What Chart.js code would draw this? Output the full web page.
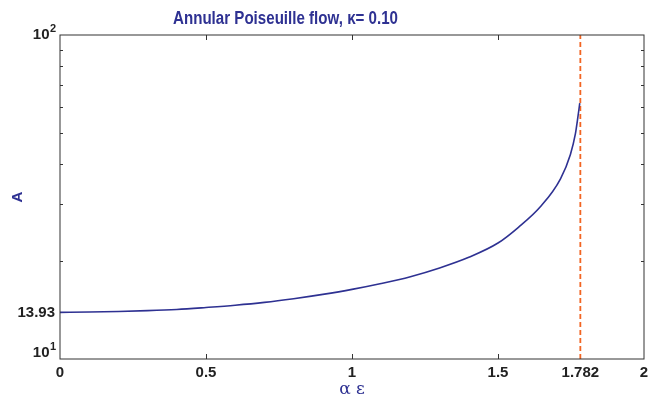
<!DOCTYPE html>
<html lang="en">
<head>
<meta charset="UTF-8">
<title>Annular Poiseuille flow</title>
<script src="https://cdn.jsdelivr.net/npm/chart.js"></script>
<style>
  body { margin: 0; background: #fff; }
  canvas { display: block; }
</style>
</head>
<body>
<canvas id="chart" width="650" height="399"></canvas>
<script>
// curve
const alphaEps = [0, 0.1, 0.2, 0.3, 0.4, 0.5, 0.6, 0.7, 0.8, 0.9, 1.0, 1.1, 1.2, 1.3, 1.4, 1.5, 1.57, 1.645, 1.714, 1.748, 1.765, 1.772, 1.78];
const ampA = [13.93, 13.96, 14.02, 14.1, 14.22, 14.42, 14.65, 14.95, 15.35, 15.83, 16.4, 17.1, 17.95, 19.1, 20.6, 22.8, 25.5, 29.5, 36.0, 42.8, 49.5, 54.5, 61.6];

const criticalX = 1.782;
const xTickValues = [0, 0.5, 1, 1.5, 1.782, 2];
const xTickLabels = ['0', '0.5', '1', '1.5', '1.782', '2'];
const yTickValues = [10, 13.93, 100];
const yTickLabels = ['', '13.93', ''];
const yMinorTicks = [20, 30, 40, 50, 60, 70, 80, 90];

const blue = '#2e3192';
const tickFont = 'bold 15px "Liberation Sans", Arial, sans-serif';

const framePlugin = {
    id: 'frame',
    afterDraw(chart) {
        const ctx = chart.ctx;
        const a = chart.chartArea;
        const x = chart.scales.x, y = chart.scales.y;
        ctx.save();
        ctx.strokeStyle = '#333';
        ctx.lineWidth = 1;
        ctx.strokeRect(a.left, a.top, a.right - a.left, a.bottom - a.top);

        // inward ticks
        ctx.beginPath();
        yMinorTicks.forEach(v => {
            const py = Math.round(y.getPixelForValue(v)) + 0.5;
            ctx.moveTo(a.left, py); ctx.lineTo(a.left + 3, py);
            ctx.moveTo(a.right, py); ctx.lineTo(a.right - 3, py);
        });
        [0.5, 1, 1.5].forEach(v => {
            const px = Math.round(x.getPixelForValue(v)) + 0.5;
            ctx.moveTo(px, a.bottom); ctx.lineTo(px, a.bottom - 5);
            ctx.moveTo(px, a.top); ctx.lineTo(px, a.top + 5);
        });
        ctx.stroke();

        // 10^1 and 10^2 labels
        ctx.fillStyle = '#222';
        const pow = (exp, yMid) => {
            ctx.font = tickFont;
            ctx.textAlign = 'right';
            ctx.textBaseline = 'middle';
            ctx.fillText('10', 49.5, yMid);
            ctx.font = 'bold 11px "Liberation Sans", Arial, sans-serif';
            ctx.textAlign = 'left';
            ctx.textBaseline = 'alphabetic';
            ctx.fillText(exp, 50, yMid - 3);
        };
        pow('2', y.getPixelForValue(100));
        pow('1', y.getPixelForValue(10) - 6.5);

        // title, narrow face
        ctx.fillStyle = blue;
        ctx.font = 'bold 18px "Liberation Sans", Arial, sans-serif';
        ctx.textAlign = 'left';
        ctx.textBaseline = 'alphabetic';
        const title = 'Annular Poiseuille flow, \u03BA= 0.10';
        const w = ctx.measureText(title).width;
        ctx.save();
        ctx.translate(173, 24);
        ctx.scale(225 / w, 1);
        ctx.fillText(title, 0, 0);
        ctx.restore();

        // axis titles
        ctx.font = '17px "DejaVu Serif", serif';
        ctx.textAlign = 'center';
        ctx.textBaseline = 'middle';
        ctx.fillText('\u03B1 \u03B5', (a.left + a.right) / 2, 390);
        ctx.save();
        ctx.translate(18, 197);
        ctx.rotate(-Math.PI / 2);
        ctx.font = 'bold 15px "Liberation Sans", Arial, sans-serif';
        ctx.fillText('A', 0, 0);
        ctx.restore();
        ctx.restore();
    }
};

new Chart(document.getElementById('chart'), {
    type: 'line',
    data: {
        datasets: [{
            data: alphaEps.map((v, i) => ({ x: v, y: ampA[i] })),
            borderColor: blue,
            borderWidth: 1.6,
            pointRadius: 0,
            cubicInterpolationMode: 'monotone',
            fill: false
        }, {
            data: [{ x: criticalX, y: 10 }, { x: criticalX, y: 100 }],
            borderColor: '#f26522',
            borderWidth: 1.8,
            borderDash: [5, 3],
            pointRadius: 0,
            fill: false
        }]
    },
    options: {
        responsive: false,
        animation: false,
        devicePixelRatio: 1,
        layout: { padding: { top: 35, right: 6, left: 0, bottom: 0 } },
        plugins: { legend: { display: false }, tooltip: { enabled: false } },
        scales: {
            x: {
                type: 'linear', min: 0, max: 2,
                grid: { display: false, drawTicks: false, tickLength: 0 },
                border: { display: false },
                afterBuildTicks: s => { s.ticks = xTickValues.map(v => ({ value: v })); },
                afterFit: s => { s.height = 40; s.paddingLeft = 0; s.paddingRight = 0; },
                ticks: {
                    autoSkip: false, maxRotation: 0, padding: 5,
                    color: '#222', font: { family: '"Liberation Sans", Arial', size: 15, weight: 'bold' },
                    callback: (v, i) => xTickLabels[i]
                }
            },
            y: {
                type: 'logarithmic', min: 10, max: 100,
                grid: { display: false, drawTicks: false, tickLength: 0 },
                border: { display: false },
                afterBuildTicks: s => { s.ticks = yTickValues.map(v => ({ value: v })); },
                afterFit: s => { s.width = 60; s.paddingTop = 0; s.paddingBottom = 0; },
                ticks: {
                    autoSkip: false, padding: 5,
                    color: '#222', font: { family: '"Liberation Sans", Arial', size: 15, weight: 'bold' },
                    callback: (v, i) => yTickLabels[i]
                }
            }
        }
    },
    plugins: [framePlugin]
});
</script>
</body>
</html>
